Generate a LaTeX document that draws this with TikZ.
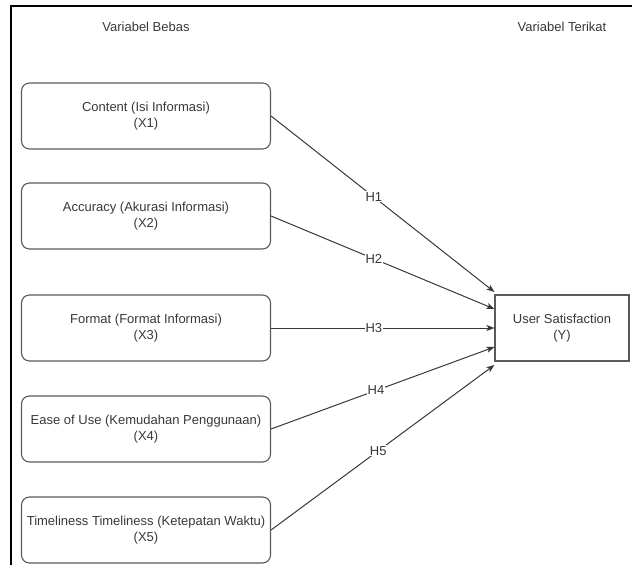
\documentclass[tikz,border=0pt]{standalone}
\usepackage{fontspec}
\setmainfont{Liberation Sans}
\usetikzlibrary{arrows.meta}
\definecolor{txtgray}{HTML}{383838}
\definecolor{linegray}{HTML}{5A5A5A}

\begin{document}
\begin{tikzpicture}[x=1pt,y=-1pt,
    font=\fontsize{13}{16}\selectfont,
    every node/.append style={text=txtgray}]

        \useasboundingbox (0,0) rectangle (632,565);
        \draw[line width=2.2pt] (11,565) -- (11,6) -- (632,6);

        \node (bebas)   at (146,27) {Variabel Bebas};
        \node (terikat) at (562,27) {Variabel Terikat};

        \begin{scope}[every node/.style={draw=linegray,line width=1.1pt,rounded corners=8pt,
            minimum width=249pt,minimum height=66pt,align=center,inner sep=1pt,text=txtgray}]
          \node (x1) at (146,116) {Content (Isi Informasi)\\(X1)};
          \node (x2) at (146,216) {Accuracy (Akurasi Informasi)\\(X2)};
          \node (x3) at (146,328) {Format (Format Informasi)\\(X3)};
          \node (x4) at (146,429) {Ease of Use (Kemudahan Penggunaan)\\(X4)};
          \node (x5) at (146,530) {Timeliness Timeliness (Ketepatan Waktu)\\(X5)};
        \end{scope}

        \node[draw=linegray,line width=1.1pt,minimum width=134pt,minimum height=66pt,align=center]
          (y) at (562,328) {User Satisfaction\\(Y)};

        \begin{scope}[every node/.style={fill=white,inner sep=1pt,text=txtgray}]

          \begin{scope}[every edge/.style={draw=txtgray,line width=1pt,-{Stealth[length=8pt,width=6pt,inset=2pt]}}]
            \path (x1.east) edge node[pos=.46] {H1} ([yshift=36pt]y.west);
            \path (x2.east) edge node[pos=.46] {H2} ([yshift=19pt]y.west);
            \path (x3.east) edge node[pos=.46] {H3} (y.west);
            \path (x4.east) edge node[pos=.47] {H4} ([yshift=-19pt]y.west);
            \path (x5.east) edge node[pos=.48] {H5} ([yshift=-37pt]y.west);
          \end{scope}
        \end{scope}

      \end{tikzpicture}
\end{document}
